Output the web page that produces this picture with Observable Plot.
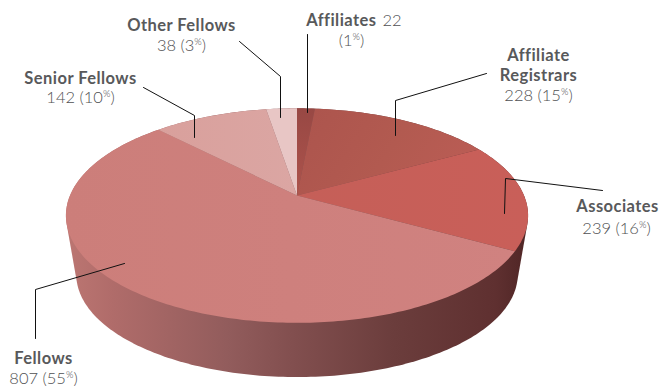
<!DOCTYPE html>
<html>
<head>
<meta charset="utf-8">
<script src="https://cdn.jsdelivr.net/npm/d3@7"></script>
<script src="https://cdn.jsdelivr.net/npm/@observablehq/plot@0.6"></script>
<style>
  html, body { margin: 0; padding: 0; background: #fff; }
  svg { display: block; }
</style>
</head>
<body>
<div id="chart"></div>
<script>
// Membership counts, clockwise from twelve o'clock
const categories = ["Affiliates", "Affiliate Registrars", "Associates", "Fellows", "Senior Fellows", "Other Fellows"];
const counts = [22, 228, 239, 807, 142, 38];
const shares = ["1%", "15%", "16%", "55%", "10%", "3%"];
const sliceFills = ["url(#affGrad)", "url(#regGrad)", "url(#assocGrad)", "url(#fellowGrad)", "url(#seniorGrad)", "#e8c6c5"];

// Tilted disc: a circle seen in perspective, with its apex above the rim's centre
const W = 666, H = 387;
const apex = {x: 296.5, y: 195};
const tilt = 0.187, halfW = 227, halfH = 103.5;
const wallDrop = 60, wallScale = 0.955;

function rim(theta, scale = 1, drop = 0) {
  const u = Math.sin(theta), v = -Math.cos(theta), w = 1 - tilt * v;
  return [apex.x + scale * halfW * u / w, apex.y + drop + scale * halfH * v / w];
}

const total = d3.sum(counts);
const cumulative = d3.cumsum(counts);
const TAU = 2 * Math.PI;

// Outline of each slice as a closed run of points
const slicePoints = categories.flatMap((name, i) => {
  const a0 = (i ? cumulative[i - 1] : 0) / total * TAU;
  const a1 = cumulative[i] / total * TAU;
  const n = Math.max(4, Math.ceil((a1 - a0) * 60));
  const outline = [[apex.x, apex.y]];
  for (let k = 0; k <= n; k++) outline.push(rim(a0 + (a1 - a0) * k / n));
  outline.push([apex.x, apex.y]);
  return outline.map(([x, y]) => ({x, y, name, fill: sliceFills[i]}));
});

// Side wall: hull of the upper and lower rims
const rimAngles = d3.range(0, 360, 1).map(d => d * Math.PI / 180);
const wallPoints = d3.polygonHull(rimAngles.flatMap(t => [rim(t), rim(t, wallScale, wallDrop)]))
  .map(([x, y]) => ({x, y}));

// Leader lines from each label into its slice
const leaders = [
  {name: "Other Fellows", path: [[239, 41], [280, 76], [280, 117]]},
  {name: "Affiliates", path: [[307, 34], [307, 112]]},
  {name: "Senior Fellows", path: [[143, 87], [194, 115], [194, 137]]},
  {name: "Affiliate Registrars", path: [[486, 73], [395, 100], [395, 135]]},
  {name: "Associates", path: [[602, 190], [505, 178], [504, 213]]},
  {name: "Fellows", path: [[124, 263], [35, 289], [35, 338]]}
].flatMap(d => d.path.map(([x, y]) => ({x, y, name: d.name})));

// Label text
const countOf = name => counts[categories.indexOf(name)];
const shareOf = name => shares[categories.indexOf(name)];
const boldLabels = [
  {x: 181, y: 30, text: "Other Fellows"},
  {x: 80, y: 83, text: "Senior Fellows"},
  {x: 538, y: 60, text: "Affiliate"},
  {x: 538, y: 80, text: "Registrars"},
  {x: 617, y: 211, text: "Associates"},
  {x: 43, y: 363, text: "Fellows"}
];
const plainLabels = [
  {x: 181, y: 50, text: `${countOf("Other Fellows")} (${shareOf("Other Fellows")})`},
  {x: 80, y: 102, text: `${countOf("Senior Fellows")} (${shareOf("Senior Fellows")})`},
  {x: 351, y: 45, text: `(${shareOf("Affiliates")})`},
  {x: 538, y: 100, text: `${countOf("Affiliate Registrars")} (${shareOf("Affiliate Registrars")})`},
  {x: 616, y: 233, text: `${countOf("Associates")} (${shareOf("Associates")})`},
  {x: 43, y: 383, text: `${countOf("Fellows")} (${shareOf("Fellows")})`}
];

// Gradient definitions for the shaded surfaces
function gradient(id, x1, y1, x2, y2, stops) {
  return `<linearGradient id="${id}" x1="${x1}" y1="${y1}" x2="${x2}" y2="${y2}">` +
    stops.map(([o, c]) => `<stop offset="${o}" stop-color="${c}"/>`).join("") + `</linearGradient>`;
}
const defs = () => {
  const g = document.createElementNS("http://www.w3.org/2000/svg", "defs");
  g.innerHTML =
    gradient("wallGrad", 0, 0, 1, 0, [[0, "#bc7672"], [0.1, "#b06c6a"], [0.35, "#925c5c"], [0.49, "#824f4f"], [0.71, "#6b3d3c"], [0.93, "#5f3030"], [1, "#4f2525"]]) +
    gradient("affGrad", 0, 0, 0, 1, [[0, "#984844"], [1, "#ad534c"]]) +
    gradient("regGrad", 0, 0, 1, 0.3, [[0, "#ac544d"], [0.6, "#b25a50"], [1, "#b95c54"]]) +
    gradient("assocGrad", 0, 0, 1, 0, [[0, "#c55f58"], [1, "#c95f59"]]) +
    gradient("fellowGrad", 0, 0, 1, 0, [[0, "#cc7e7a"], [1, "#d08280"]]) +
    gradient("seniorGrad", 0, 0, 1, 0, [[0, "#d9a09c"], [1, "#dba6a3"]]);
  return g;
};

const fontFamily = "Lato, 'Open Sans', sans-serif";
const labelSize = 16.5, nameInk = "#58595b", countInk = "#4f5052";

const chart = Plot.plot({
  width: W, height: H,
  margin: 0,
  x: {domain: [0, W], range: [0, W], axis: null},
  y: {domain: [0, H], range: [0, H], axis: null},
  marks: [
    defs,
    Plot.line(wallPoints.concat(wallPoints[0]), {x: "x", y: "y", fill: "url(#wallGrad)", stroke: "none"}),
    Plot.line(slicePoints, {x: "x", y: "y", z: "name", fill: "fill", stroke: "none"}),
    Plot.line(leaders, {x: "x", y: "y", z: "name", stroke: "#111", strokeWidth: 1, curve: "linear"}),
    Plot.text(boldLabels, {x: "x", y: "y", text: "text", fontWeight: 700, fontSize: labelSize, fill: nameInk, lineAnchor: "bottom", className: "name"}),
    Plot.text(plainLabels, {x: "x", y: "y", text: "text", fontWeight: 300, fontSize: labelSize, fill: countInk, lineAnchor: "bottom"}),
    Plot.text(["Affiliates"], {x: () => 376, y: () => 25, text: d => d, textAnchor: "end", fontWeight: 700, fontSize: labelSize, fill: nameInk, lineAnchor: "bottom", className: "name"}),
    Plot.text([countOf("Affiliates")], {x: () => 382, y: () => 25, text: d => String(d), textAnchor: "start", fontWeight: 300, fontSize: labelSize, fill: countInk, lineAnchor: "bottom"})
  ],
  style: {fontFamily, background: "#fff"}
});

// Bold names are set slightly open
d3.select(chart).selectAll("g.name text").attr("letter-spacing", "0.45px");

// Percent signs are set small and raised
d3.select(chart).selectAll("text").each(function () {
  const t = this.textContent;
  if (this.children.length || !t.includes("%")) return;
  const m = t.match(/^(.*?)%(.*)$/);
  const sel = d3.select(this);
  sel.text(null);
  sel.append("tspan").text(m[1]);
  sel.append("tspan").attr("font-size", "0.58em").attr("dy", "-0.55em").text("%");
  sel.append("tspan").attr("dy", "0.32em").text(m[2]);
});

document.getElementById("chart").append(chart);
</script>
</body>
</html>
